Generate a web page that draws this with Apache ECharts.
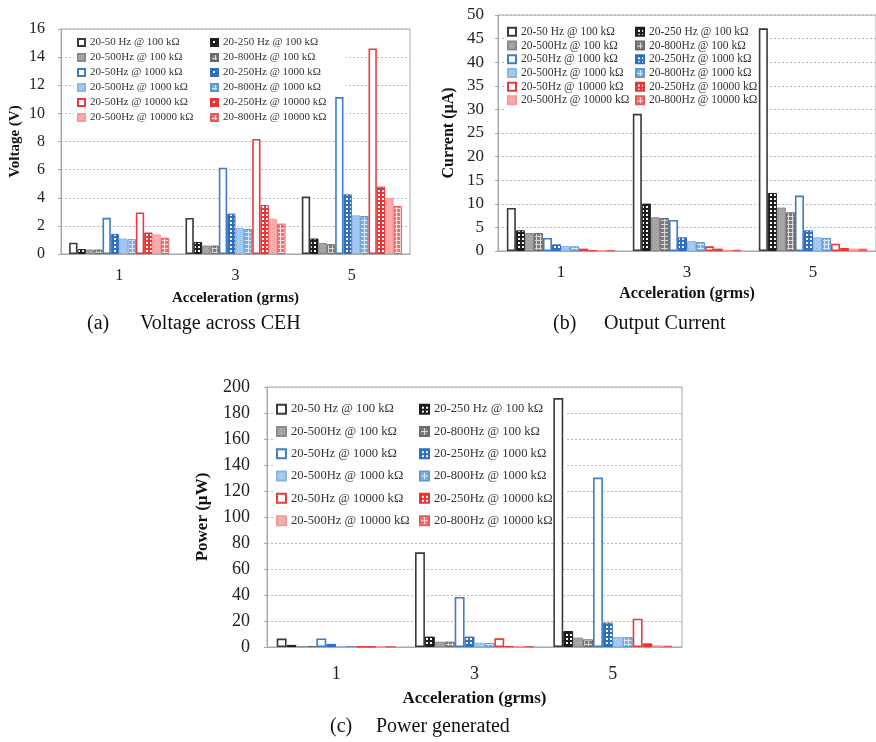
<!DOCTYPE html>
<html>
<head>
<meta charset="utf-8">
<script src="https://cdn.jsdelivr.net/npm/echarts@6.0.0/dist/echarts.min.js"></script>
<style>
  html, body { margin: 0; padding: 0; background: #fff; }
  #chart { width: 876px; height: 742px; }
</style>
</head>
<body>
<div id="chart"></div>
<script>
// Acceleration levels (grms) on the x axis of every panel
const categories = ['1', '3', '5'];

// Excitation band / load resistance combinations
const seriesNames = [
  '20-50 Hz @ 100 kΩ', '20-250 Hz @ 100 kΩ',
  '20-500Hz @ 100 kΩ', '20-800Hz @ 100 kΩ',
  '20-50Hz @ 1000 kΩ', '20-250Hz @ 1000 kΩ',
  '20-500Hz @ 1000 kΩ', '20-800Hz @ 1000 kΩ',
  '20-50Hz @ 10000 kΩ', '20-250Hz @ 10000 kΩ',
  '20-500Hz @ 10000 kΩ', '20-800Hz @ 10000 kΩ'
];

// Voltage across the harvester (V); rows = bands 20-50, 20-250, 20-500, 20-800 Hz
const voltage100k = [
  [0.8, 2.56, 4.08],
  [0.35, 0.85, 1.1],
  [0.32, 0.6, 0.78],
  [0.32, 0.6, 0.7]
];
const voltage1000k = [
  [2.57, 6.14, 11.16],
  [1.43, 2.87, 4.24],
  [1.1, 1.85, 2.75],
  [1.05, 1.78, 2.7]
];
const voltage10000k = [
  [2.95, 8.18, 14.62],
  [1.53, 3.48, 4.79],
  [1.39, 2.51, 3.98],
  [1.16, 2.16, 3.41]
];

// Output current (µA)
const current100k = [
  [9.12, 29.07, 47.17],
  [4.38, 10.04, 12.3],
  [3.82, 7.14, 9.19],
  [3.82, 7.0, 8.2]
];
const current1000k = [
  [2.76, 6.58, 11.74],
  [1.41, 2.9, 4.38],
  [1.06, 2.12, 2.9],
  [0.99, 1.9, 2.76]
];
const current10000k = [
  [0.5, 0.99, 1.55],
  [0.2, 0.5, 0.64],
  [0.2, 0.28, 0.5],
  [0.2, 0.28, 0.5]
];

// Power generated (µW)
const power100k = [
  [6.5, 72.8, 191.5],
  [1.6, 8.0, 12.3],
  [0.8, 4.1, 7.2],
  [0.8, 4.1, 5.9]
];
const power1000k = [
  [6.6, 38.5, 130.3],
  [2.4, 8.0, 18.8],
  [0.8, 3.3, 7.7],
  [0.8, 3.1, 7.6]
];
const power10000k = [
  [0.4, 6.7, 21.8],
  [0.2, 0.8, 2.8],
  [0.2, 0.5, 1.3],
  [0.2, 0.5, 1.0]
];

// Axis tick settings
const voltageAxis = { max: 16, interval: 2 };
const currentAxis = { max: 50, interval: 5 };
const powerAxis = { max: 200, interval: 20 };

const serif = '"Liberation Serif", "Times New Roman", serif';

// Small repeating fill tiles for the hatched bars
function tile(bg, fg, kind) {
  const n = 4;
  const c = document.createElement('canvas');
  c.width = n; c.height = n;
  const g = c.getContext('2d');
  g.fillStyle = bg;
  g.fillRect(0, 0, n, n);
  g.fillStyle = fg;
  if (kind === 'checker') {
    g.fillRect(0, 0, n, 2);
    g.fillRect(0, 0, 2, n);
  } else if (kind === 'lines') {
    g.fillRect(0, 0, n, 1);
    g.fillRect(0, 0, 1, n);
  } else if (kind === 'dots') {
    g.fillRect(0, 0, 1, 1);
    g.fillRect(2, 2, 1, 1);
  }
  return { image: c, repeat: 'repeat' };
}

const barStyles = [
  { color: '#ffffff', borderColor: '#3a3a3a', borderWidth: 1.6 },
  { color: tile('#ffffff', '#1e1e1e', 'checker'), borderColor: '#1e1e1e', borderWidth: 1 },
  { color: tile('#a8a8a8', '#8e8e8e', 'dots'), borderColor: '#8a8a8a', borderWidth: 1 },
  { color: tile('#7c7c7c', '#d8d8d8', 'lines'), borderColor: '#6a6a6a', borderWidth: 1 },
  { color: '#ffffff', borderColor: '#3f7dc6', borderWidth: 1.6 },
  { color: tile('#ffffff', '#2f6fbe', 'checker'), borderColor: '#2f6fbe', borderWidth: 1 },
  { color: tile('#a9cbee', '#8ab6e3', 'dots'), borderColor: '#8cb5e0', borderWidth: 1 },
  { color: tile('#7eaee0', '#dbe9f7', 'lines'), borderColor: '#5e98d4', borderWidth: 1 },
  { color: '#ffffff', borderColor: '#ec3a3a', borderWidth: 1.6 },
  { color: tile('#ffffff', '#e83535', 'checker'), borderColor: '#e83535', borderWidth: 1 },
  { color: tile('#f6b3b3', '#f09090', 'dots'), borderColor: '#f29a9a', borderWidth: 1 },
  { color: tile('#ef7070', '#fde0e0', 'lines'), borderColor: '#e85a5a', borderWidth: 1 }
];

const panels = [
  { rows: [...voltage100k, ...voltage1000k, ...voltage10000k], axis: voltageAxis,
    grid: { left: 61, top: 29, width: 349, height: 225 },
    yName: 'Voltage (V)', yNameGap: 38, yFont: 16, yMargin: 16,
    xFont: 16, xMargin: 14, xNameGap: 37, titleFont: 15,
    legend: { left: 74, top: 32, icon: 7, col: 132, font: 11, line: 15 } },
  { rows: [...current100k, ...current1000k, ...current10000k], axis: currentAxis,
    grid: { left: 498, top: 15, width: 378, height: 236 },
    yName: 'Current (µA)', yNameGap: 41, yFont: 17, yMargin: 14,
    xFont: 17, xMargin: 13, xNameGap: 35, titleFont: 16,
    legend: { left: 504, top: 22, icon: 8, col: 127, font: 11.5, line: 13.7 } },
  { rows: [...power100k, ...power1000k, ...power10000k], axis: powerAxis,
    grid: { left: 267, top: 387, width: 415, height: 260 },
    yName: 'Power (µW)', yNameGap: 56, yFont: 18, yMargin: 17,
    xFont: 18, xMargin: 18, xNameGap: 43, titleFont: 17,
    legend: { left: 273, top: 395, icon: 9, col: 142, font: 12.6, line: 22.3 } }
];

const option = {
  animation: false,
  backgroundColor: '#ffffff',
  grid: [], xAxis: [], yAxis: [], legend: [], series: [],
  graphic: []
};

panels.forEach((p, i) => {
  option.grid.push(Object.assign({ show: true, borderColor: '#a9a9a9', borderWidth: 1,
    backgroundColor: 'transparent', containLabel: false }, p.grid));
  option.xAxis.push({
    type: 'category', gridIndex: i, data: categories,
    name: 'Acceleration (grms)', nameLocation: 'middle', nameGap: p.xNameGap,
    nameTextStyle: { fontFamily: serif, fontWeight: 'bold', fontSize: p.titleFont, color: '#111' },
    axisLine: { show: true, lineStyle: { color: '#a9a9a9', width: 1 } },
    axisTick: { show: false },
    axisLabel: { fontFamily: serif, fontSize: p.xFont, color: '#222', margin: p.xMargin },
    splitLine: { show: false }
  });
  option.yAxis.push({
    type: 'value', gridIndex: i, min: 0, max: p.axis.max, interval: p.axis.interval,
    name: p.yName, nameLocation: 'middle', nameGap: p.yNameGap,
    nameTextStyle: { fontFamily: serif, fontWeight: 'bold', fontSize: p.titleFont, color: '#111' },
    axisLine: { show: true, lineStyle: { color: '#a9a9a9', width: 1 } },
    axisTick: { show: true, length: 3, lineStyle: { color: '#a9a9a9' } },
    axisLabel: { fontFamily: serif, fontSize: p.yFont, color: '#222', margin: p.yMargin },
    splitLine: { show: true, lineStyle: { color: '#b8b8b8', width: 1, type: [2, 2] } }
  });
  const L = p.legend;
  // legend sits above the grid lines but beneath the bars
  option.legend.push({
    z: 1, zlevel: 0,
    data: seriesNames, orient: 'horizontal', left: L.left, top: L.top,
    width: 2 * L.col + 2, itemGap: 0, itemWidth: L.icon, itemHeight: L.icon,
    padding: 3, backgroundColor: '#ffffff', icon: 'rect', selectedMode: false,
    textStyle: { fontFamily: serif, fontSize: L.font, lineHeight: L.line, color: '#333',
      width: L.col - L.icon - 5, overflow: 'none' }
  });
  seriesNames.forEach((name, k) => {
    option.series.push({
      type: 'bar', name: name, xAxisIndex: i, yAxisIndex: i,
      data: p.rows[k], barGap: '0%', barCategoryGap: '14%',
      itemStyle: barStyles[k], z: 3
    });
  });
});

// Panel captions
const captions = [
  { tag: '(a)', text: 'Voltage across CEH', x: 87, gapX: 140, y: 325 },
  { tag: '(b)', text: 'Output Current', x: 553, gapX: 604, y: 325 },
  { tag: '(c)', text: 'Power generated', x: 330, gapX: 376, y: 728 }
];
captions.forEach(c => {
  option.graphic.push({ type: 'text', left: c.x, top: c.y - 11,
    style: { text: c.tag, font: '20px ' + serif, fill: '#111' } });
  option.graphic.push({ type: 'text', left: c.gapX, top: c.y - 11,
    style: { text: c.text, font: '20px ' + serif, fill: '#111' } });
});

const chart = echarts.init(document.getElementById('chart'), null, { renderer: 'canvas' });
chart.setOption(option);
</script>
</body>
</html>
